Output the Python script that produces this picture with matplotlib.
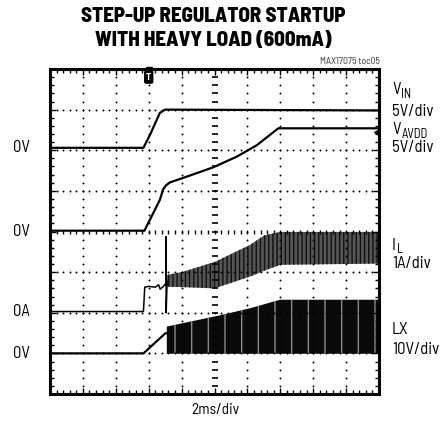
import numpy as np
import matplotlib.pyplot as plt

FAM = ['Barlow Semi Condensed', 'Roboto Condensed', 'Liberation Sans Narrow', 'DejaVu Sans']
plt.rcParams['font.family'] = FAM
plt.rcParams['hatch.linewidth'] = 1.0

W, H = 446, 429

# time in divisions (2ms/div); each channel has its own screen offset and scale
vin_t = [0, 2.84, 3.04, 3.34, 3.5, 10]
vin_v = [0, 0, 1.6, 4.3, 4.7, 4.6]            # V, 5V/div

avdd_t = [0, 2.87, 3.34, 3.44, 3.53, 3.65, 4.05, 4.96, 5.67, 6.28, 6.94, 10]
avdd_v = [0, 0, 3.8, 5.1, 5.6, 5.95, 6.5, 7.8, 9.1, 10.5, 12.6, 12.6]  # V, 5V/div

il_t = [0, 2.84, 2.88, 3.0, 3.2, 3.3, 3.35, 3.45, 3.53, 3.53, 3.53, 3.56]
il_v = [0, 0, 0.6, 0.62, 0.6, 0.66, 0.55, 0.62, 0.7, 1.84, -0.03, 0.75]  # A, 1A/div
il_env_t = [3.55, 4.05, 5.0, 6.08, 6.5, 7.0, 10]
il_top = [0.9, 0.98, 1.22, 1.64, 1.87, 1.96, 1.96]
il_bot = [0.61, 0.6, 0.57, 0.86, 1.0, 1.15, 1.18]

lx_t = [0, 2.84, 3.5, 3.55]
lx_v = [0, 0, 4.9, 5.0]                        # V, 10V/div
lx_env_t = [3.55, 5.07, 6.08, 6.99, 10]
lx_top = [6.6, 9.2, 11.1, 13.2, 13.2]
lx_bot = [-0.1, -0.1, -0.1, -0.1, -0.1]

vin_off, vin_scale = 6.06, 5.0
avdd_off, avdd_scale = 4.02, 5.0
il_off, il_scale = 2.03, 1.0
lx_off, lx_scale = 1.0, 10.0

fig = plt.figure(figsize=(W / 100, H / 100), dpi=100)
ax = fig.add_axes([50 / W, (H - 394) / H, 329 / W, 325 / H])
ax.set_xlim(0, 10)
ax.set_ylim(0, 8)

# graticule
minor = np.arange(0, 10.001, 0.2)
minor_y = np.arange(0, 8.001, 0.2)
for gy in range(1, 8):
    if gy == 4:
        ax.plot(minor, np.full_like(minor, gy), ls='none', marker='|', ms=3, mew=1, color='k')
    else:
        ax.plot(minor, np.full_like(minor, gy), ls='none', marker='o', ms=1.4, mew=0, color='k')
for gx in range(1, 10):
    if gx == 5:
        ax.plot(np.full_like(minor_y, gx), minor_y, ls='none', marker='_', ms=4, mew=1.2, color='k')
    else:
        ax.plot(np.full_like(minor_y, gx), minor_y, ls='none', marker='o', ms=1.4, mew=0, color='k')

lw = 1.6
ax.plot(vin_t, np.array(vin_v) / vin_scale + vin_off, color='k', lw=lw)
ax.plot(avdd_t, np.array(avdd_v) / avdd_scale + avdd_off, color='k', lw=lw)
ax.plot(il_t, np.array(il_v) / il_scale + il_off, color='k', lw=1.1)
ax.fill_between(il_env_t, np.array(il_bot) / il_scale + il_off, np.array(il_top) / il_scale + il_off,
                facecolor='#555555', edgecolor='#111111', hatch='||||', lw=0)
ax.plot(lx_t, np.array(lx_v) / lx_scale + lx_off, color='k', lw=lw)
ax.fill_between(lx_env_t, np.array(lx_bot) / lx_scale + lx_off, np.array(lx_top) / lx_scale + lx_off,
                facecolor='#0a0a0a', edgecolor='#8a8a8a', hatch='|', lw=0)

# trigger marker and channel marker
ax.text(3.0, 7.8, 'T', ha='center', va='center', color='white', fontsize=7, fontweight='bold',
        bbox=dict(boxstyle='round,pad=0.15', fc='k', ec='k'))
ax.plot([3.0], [7.98], marker='v', ms=4, color='k', clip_on=False)
ax.plot([9.93], [6.45], marker='<', ms=4, color='k')

ax.set_xticks(np.arange(0, 10.001, 1))
ax.set_yticks(np.arange(0, 8.001, 1))
ax.set_xticks(minor, minor=True)
ax.set_yticks(minor_y, minor=True)
ax.tick_params(which='both', direction='in', top=True, right=True, labelbottom=False, labelleft=False,
               width=1, color='k')
ax.tick_params(which='major', length=4)
ax.tick_params(which='minor', length=3)
for s in ax.spines.values():
    s.set_linewidth(2.2)


def ftext(x, y, s, **kw):
    return fig.text(x / W, 1 - y / H, s, **kw)


ftext(213, 16, 'STEP-UP REGULATOR STARTUP', ha='center', va='center', fontsize=15, fontweight=800)
ftext(213, 41, 'WITH HEAVY LOAD (600mA)', ha='center', va='center', fontsize=15, fontweight=800)
ftext(380, 61, 'MAX17075 toc05', ha='right', va='center', fontsize=7, color='#333333')
ftext(215, 410, '2ms/div', ha='center', va='center', fontsize=11)

for lbl, y in [('0V', 148), ('0V', 232), ('0A', 312), ('0V', 353)]:
    ftext(13, y, lbl, ha='left', va='center', fontsize=12)

# channel names with subscripts
right_main = [('V', 'IN', 90), ('V', 'AVDD', 130), ('I', 'L', 245)]
for main, sub, y in right_main:
    t = ftext(392, y, main, ha='left', va='center', fontsize=12)
    fig.add_artist(plt.Annotation(sub, xy=(1, 0.22), xycoords=t, xytext=(0.5, -3),
                                  textcoords='offset points', fontsize=9, ha='left', va='baseline'))

right = [('5V/div', 111), ('5V/div', 148), ('1A/div', 263), ('LX', 330), ('10V/div', 350)]
for lbl, y in right:
    ftext(392, y, lbl, ha='left', va='center', fontsize=12)

fig.savefig('out.png', dpi=100)
